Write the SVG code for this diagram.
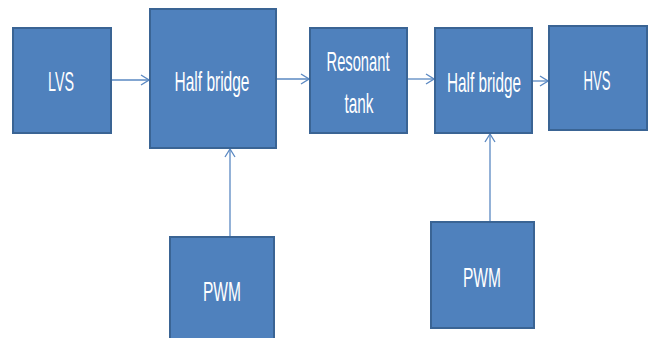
<svg xmlns="http://www.w3.org/2000/svg" width="650" height="338" viewBox="0 0 650 338">
<defs>
<style>
.box{fill:#4F81BD;stroke:#3A6494;stroke-width:2}
.t{fill:#FFFFFF;font-family:"Liberation Sans",Arial,sans-serif;font-size:28px;text-anchor:middle}
.c{stroke:#5A88C2;stroke-width:1.3;fill:none}
</style>
<marker id="ah" markerWidth="10" markerHeight="12" refX="9" refY="6" orient="auto" markerUnits="userSpaceOnUse">
<path d="M1,1 L9,6 L1,11" fill="none" stroke="#5A88C2" stroke-width="1.3"/>
</marker>
</defs>
<rect width="650" height="338" fill="#FFFFFF"/>
<g id="connectors">
<line class="c" x1="111" y1="80" x2="149" y2="80" marker-end="url(#ah)"/>
<line class="c" x1="276" y1="79" x2="309" y2="79" marker-end="url(#ah)"/>
<line class="c" x1="407" y1="79" x2="434" y2="79" marker-end="url(#ah)"/>
<line class="c" x1="532" y1="81" x2="548" y2="81" marker-end="url(#ah)"/>
<line class="c" x1="230" y1="237" x2="230" y2="149" marker-end="url(#ah)"/>
<line class="c" x1="490" y1="222" x2="490" y2="134" marker-end="url(#ah)"/>
</g>
<g id="lvs">
<rect class="box" x="13" y="28" width="98" height="105"/>
<text class="t" x="61" y="91" textLength="26" lengthAdjust="spacingAndGlyphs">LVS</text>
</g>
<g id="halfbridge1">
<rect class="box" x="150" y="9" width="126" height="139"/>
<text class="t" x="212" y="91" textLength="75" lengthAdjust="spacingAndGlyphs">Half bridge</text>
</g>
<g id="resonant">
<rect class="box" x="310" y="28" width="97" height="105"/>
<text class="t" x="358" y="71" textLength="63" lengthAdjust="spacingAndGlyphs">Resonant</text>
<text class="t" x="359" y="113" textLength="29" lengthAdjust="spacingAndGlyphs">tank</text>
</g>
<g id="halfbridge2">
<rect class="box" x="435" y="28" width="97" height="105"/>
<text class="t" x="484" y="92" textLength="74" lengthAdjust="spacingAndGlyphs">Half bridge</text>
</g>
<g id="hvs">
<rect class="box" x="549" y="26" width="98" height="104"/>
<text class="t" x="597" y="90" textLength="27" lengthAdjust="spacingAndGlyphs">HVS</text>
</g>
<g id="pwm1">
<rect class="box" x="170" y="237" width="104" height="102"/>
<text class="t" x="222" y="301" textLength="38" lengthAdjust="spacingAndGlyphs">PWM</text>
</g>
<g id="pwm2">
<rect class="box" x="431" y="222" width="103" height="106"/>
<text class="t" x="482" y="287" textLength="38" lengthAdjust="spacingAndGlyphs">PWM</text>
</g>
</svg>
